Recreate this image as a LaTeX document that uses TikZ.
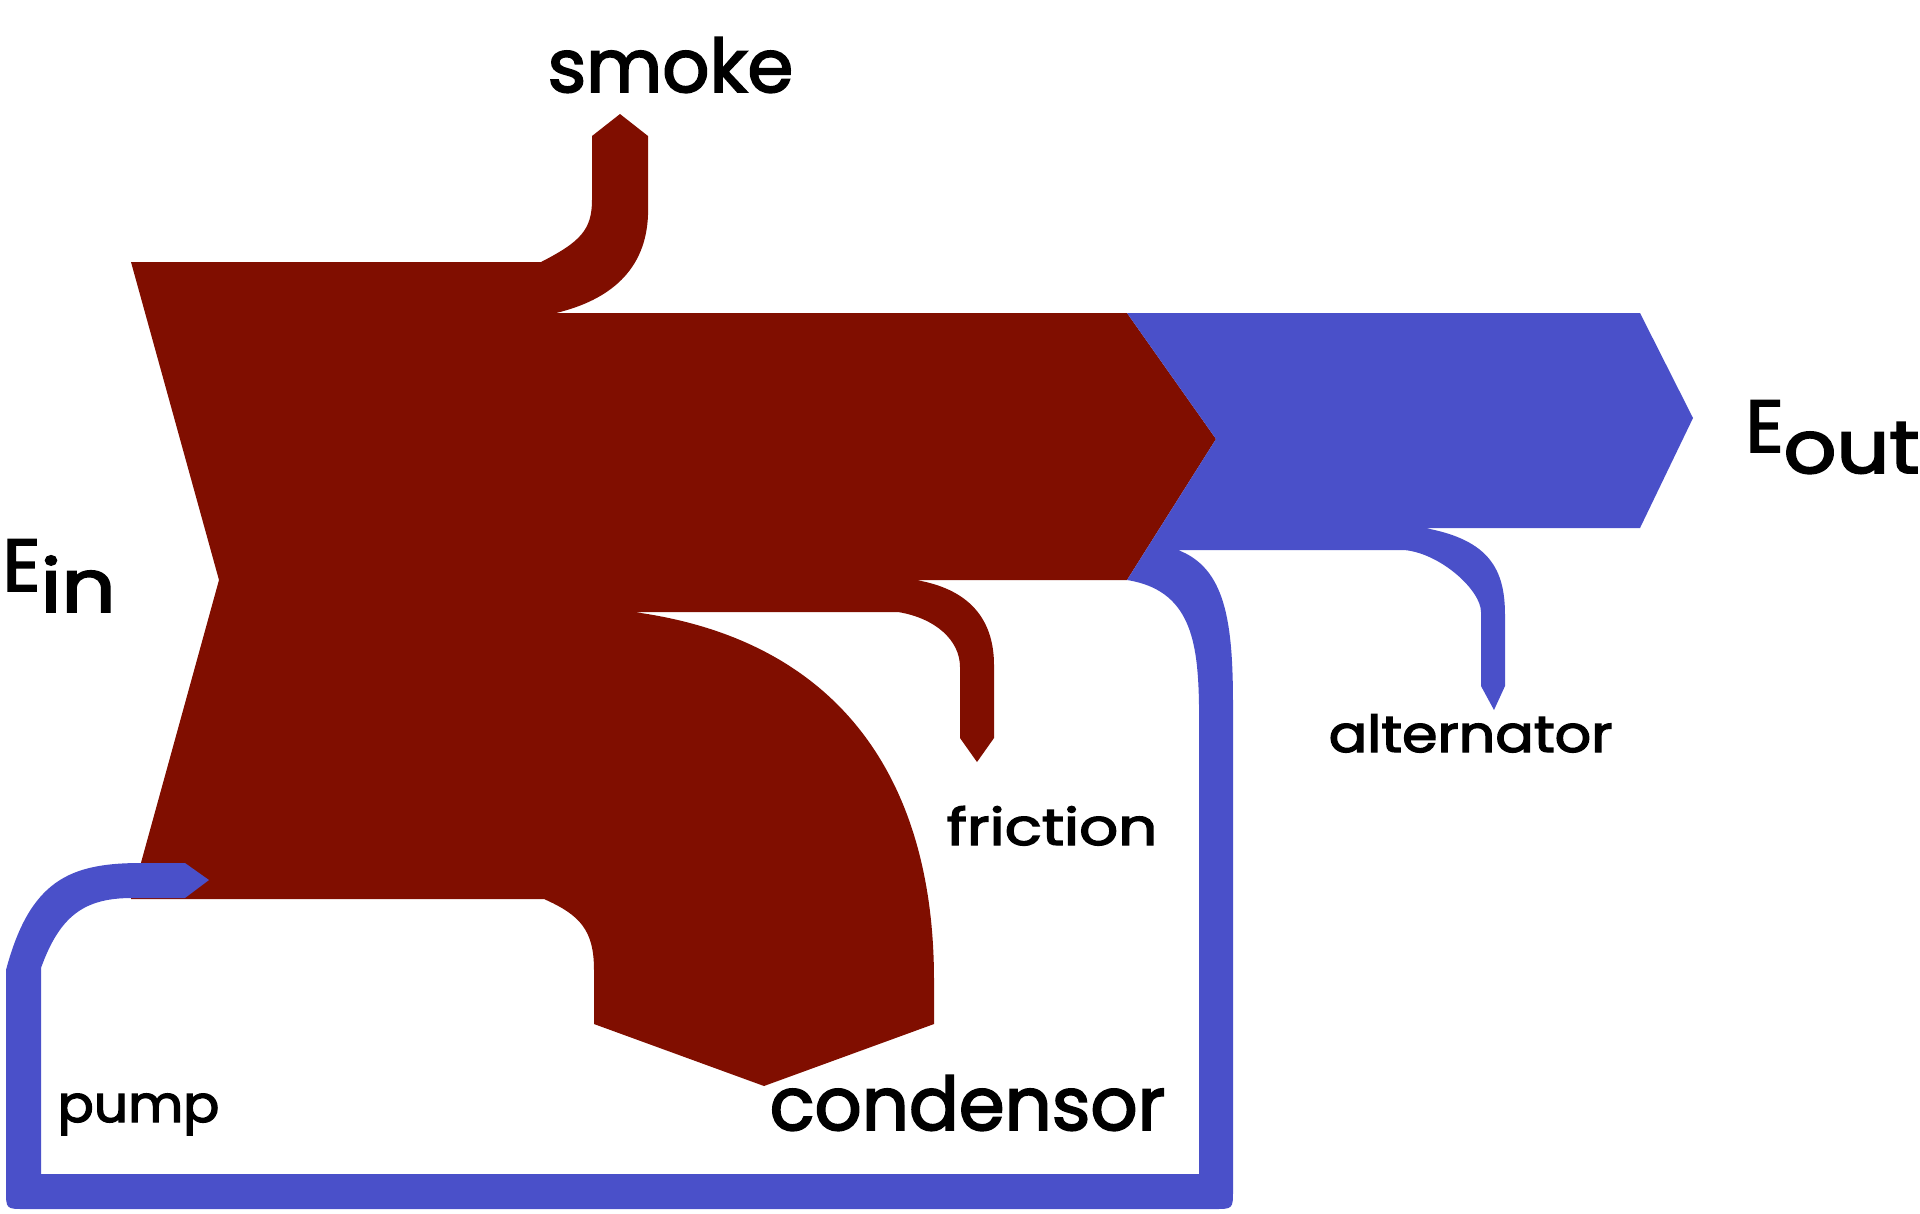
\documentclass[tikz,border=0pt]{standalone}
\usepackage{fontspec}
\setmainfont{Poppins}[FakeBold=2.5]
\usepackage{graphicx}
\usepackage{tikz}
\definecolor{heat}{RGB}{128,14,0}
\definecolor{work}{RGB}{74,80,201}

\begin{document}
\begin{tikzpicture}[x=0.1mm, y=-0.1mm,
    big/.style={font=\fontsize{21}{24}\selectfont, inner sep=0pt, anchor=base west},
    small/.style={font=\fontsize{14.5}{17}\selectfont, inner sep=0pt, anchor=base west}]
        \useasboundingbox (0,0) rectangle (1920,1213);
        % red flow: E_in splitting into smoke, friction, condensor
        \coordinate (TL) at (131, 262);
        \coordinate (N)  at (219, 580);
        \coordinate (BL) at (131, 899);
        \coordinate (RT) at (1127, 313);
        \coordinate (R)  at (1216, 439);
        \coordinate (RB) at (1127, 580);
        \fill[heat] (TL) -- (541, 262) .. controls (580, 242) and (592, 230) .. (592, 200)
            -- (592, 136) -- (620, 114) -- (648, 136) -- (648, 215)
            .. controls (646, 270) and (610, 300) .. (556, 313) -- (RT) -- (R) -- (RB)
            -- (916, 580) .. controls (975, 590) and (994, 625) .. (994, 665)
            -- (994, 738) -- (977, 762) -- (960, 738) -- (960, 667)
            .. controls (960, 640) and (935, 618) .. (898, 612) -- (634, 612)
            .. controls (840, 640) and (934, 780) .. (934, 980)
            -- (934, 1024) -- (764, 1086) -- (594, 1024) -- (594, 970)
            .. controls (594, 930) and (580, 915) .. (544, 899) -- (BL) -- (N) -- cycle;
        % blue flow: E_out, alternator and the pump loop
        \fill[work] (RT) -- (1640, 313) -- (1693, 418) -- (1640, 528) -- (1425, 528)
            .. controls (1490, 540) and (1505, 570) .. (1505, 615)
            -- (1505, 686) -- (1494, 710) -- (1481, 686) -- (1481, 612)
            .. controls (1481, 590) and (1440, 553) .. (1404, 550) -- (1178, 550)
            .. controls (1225, 568) and (1233, 620) .. (1233, 705)
            -- (1233, 1190) .. controls (1233, 1209) and (1233, 1209) .. (1214, 1209)
            -- (25, 1209) .. controls (6, 1209) and (6, 1209) .. (6, 1190)
            -- (6, 970) .. controls (30, 880) and (70, 863) .. (141, 863)
            -- (185, 863) -- (209, 880) -- (185, 898) -- (132, 898)
            .. controls (85, 898) and (60, 915) .. (41, 968)
            -- (41, 1174) -- (1199, 1174) -- (1199, 705)
            .. controls (1198, 640) and (1190, 590) .. (RB) -- (R) -- cycle;
        % labels
        \node[big] (smoke) at (547, 92) {smoke};
        \node[big] (ein) at (2, 591) {E\lower2.1mm\hbox{\scalebox{1.15}[1]{in}}};
        \node[big] (eout) at (1745, 452) {E\lower2.1mm\hbox{\scalebox{1.12}[1]{out}}};
        \node[big] (condensor) at (769, 1130) {condensor};
        \node[small] (friction) at (946, 845) {\scalebox{1.2}[1]{friction}};
        \node[small] (alternator) at (1328, 752) {\scalebox{1.12}[1]{alternator}};
        \node[small] (pump) at (57, 1122) {\scalebox{1.05}[1]{pump}};
    \end{tikzpicture}
\end{document}
